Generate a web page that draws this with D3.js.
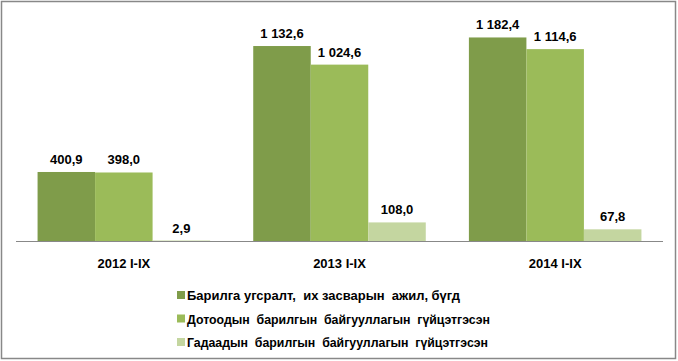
<!DOCTYPE html>
<html><head><meta charset="utf-8">
<script src="https://cdn.jsdelivr.net/npm/d3@7"></script>
<style>body{margin:0;background:#fff}svg{display:block}</style>
</head><body><svg id="c" width="678" height="361"></svg>
<script>
const categories = ["2012 I-IX", "2013 I-IX", "2014 I-IX"];
const seriesNames = [
  "Барилга угсралт,  их засварын  ажил, бүгд",
  "Дотоодын  барилгын  байгууллагын  гүйцэтгэсэн",
  "Гадаадын  барилгын  байгууллагын  гүйцэтгэсэн"
];
const totalWork = [400.9, 1132.6, 1182.4];
const domestic = [398.0, 1024.6, 1114.6];
const foreign = [2.9, 108.0, 67.8];
const colors = ["#7f9c4a", "#9bbb59", "#c4d6a0"];
const series = [totalWork, domestic, foreign];
const legendWidths = [273, 303, 301];

const svg = d3.select("#c");
const font = "'Liberation Sans Narrow','Arial Narrow','Liberation Sans',Arial,sans-serif";
svg.append("rect").attr("x",1.5).attr("y",1.5).attr("width",674).attr("height",357)
  .attr("fill","#fff").attr("stroke","#888").attr("stroke-width",1.5);

const x0 = d3.scaleBand().domain(categories).range([16, 663]).paddingInner(0.2).paddingOuter(0.1);
const x1 = d3.scaleBand().domain([0,1,2]).range([0, x0.bandwidth()]);
const y = d3.scaleLinear().domain([0, 1400]).range([241, 0]);

const fmt = v => {
  const s = v.toFixed(1).replace(".", ",");
  const [i, d] = s.split(",");
  return i.replace(/\B(?=(\d{3})+(?!\d))/g, " ") + "," + d;
};

categories.forEach((c, ci) => {
  const g = svg.append("g").attr("transform", `translate(${x0(c)},0)`);
  series.forEach((s, si) => {
    g.append("rect").attr("x", x1(si)).attr("y", y(s[ci]))
      .attr("width", x1.bandwidth()).attr("height", y(0) - y(s[ci]))
      .attr("fill", colors[si]);
    g.append("text").attr("x", x1(si) + x1.bandwidth()/2).attr("y", y(s[ci]) - 8)
      .attr("text-anchor","middle").attr("font-family",font).attr("font-weight","bold")
      .attr("font-size",13).attr("fill","#000").text(fmt(s[ci]));
  });
});

const xAxis = d3.axisBottom(x0).tickSize(0).tickPadding(0);
const ax = svg.append("g").attr("transform","translate(0,241)").call(xAxis);
ax.select(".domain").remove();
svg.append("line").attr("x1",16).attr("x2",663).attr("y1",241.5).attr("y2",241.5).attr("stroke","#888");
ax.selectAll("text").attr("y",27).attr("dy",0).attr("font-family",font).attr("font-weight","bold")
  .attr("font-size",13).attr("fill","#000");

const lg = svg.append("g");
seriesNames.forEach((n, i) => {
  const yy = 295 + i*23.5;
  lg.append("rect").attr("x",177).attr("y",yy-4).attr("width",8).attr("height",8).attr("fill",colors[i]);
  lg.append("text").attr("x",187).attr("y",yy+5).attr("font-family",font).attr("font-weight","bold")
    .attr("font-size",13.5).attr("fill","#000").style("white-space","pre")
    .attr("textLength", legendWidths[i]).attr("lengthAdjust","spacingAndGlyphs").text(n);
});
</script></body></html>
